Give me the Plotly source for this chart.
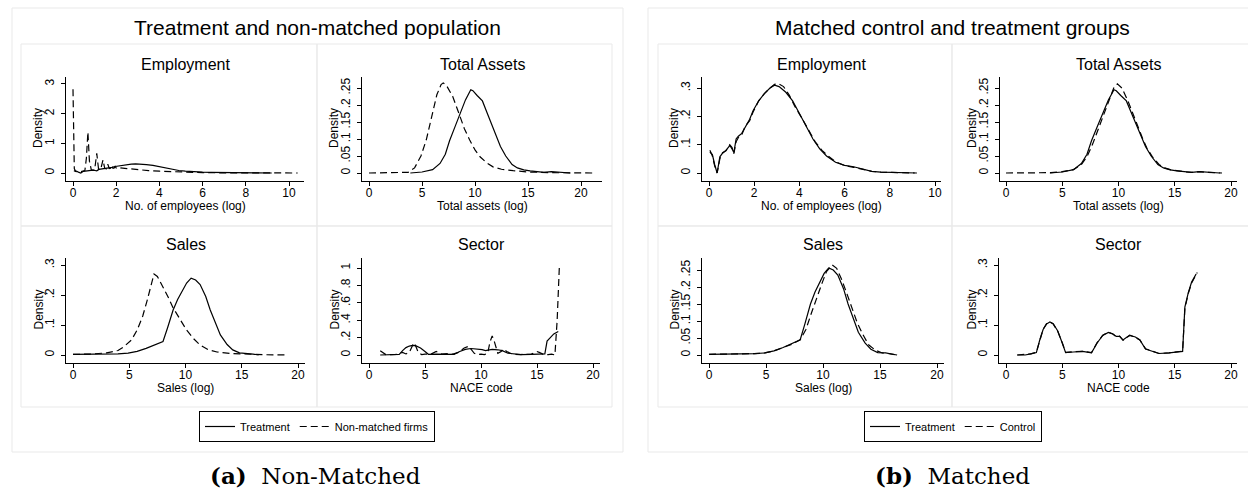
import plotly.graph_objects as go

W, H = 1248, 496

# ---------------- data: kernel density estimates ----------------
# Employment (log no. of employees)
emp_treat_x = [0.04, 0.15, 0.25, 0.36, 0.48, 0.6, 0.75, 0.92, 1.02, 1.1, 1.2, 1.3, 1.45, 1.6, 1.8, 1.95,
               2.2, 2.45, 2.7, 2.9, 3.1, 3.4, 3.7, 4.0, 4.3, 4.6, 4.9, 5.2, 5.6, 6.0, 6.4, 6.8, 7.2, 7.6,
               8.0, 8.5, 9.2]
emp_treat_y = [0.074, 0.065, 0.03, 0.0, 0.057, 0.07, 0.08, 0.097, 0.085, 0.072, 0.12, 0.13, 0.14, 0.16,
               0.19, 0.22, 0.255, 0.28, 0.3, 0.31, 0.305, 0.285, 0.255, 0.21, 0.165, 0.12, 0.085, 0.06,
               0.038, 0.027, 0.022, 0.013, 0.006, 0.003, 0.002, 0.001, 0.0]
emp_nonm_x = [0.0, 0.02, 0.06, 0.12, 0.3, 0.55, 0.62, 0.69, 0.76, 0.85, 1.0, 1.1, 1.18, 1.28, 1.39, 1.47,
              1.55, 1.61, 1.68, 1.74, 1.79, 1.85, 1.91, 1.95, 2.0, 2.08, 2.2, 2.5, 3.0, 3.5, 4.0, 4.5,
              5.0, 5.5, 6.0, 7.0, 8.0, 9.0, 10.4]
emp_nonm_y = [2.82, 1.5, 0.15, 0.05, 0.03, 0.08, 0.5, 1.38, 0.4, 0.1, 0.1, 0.66, 0.15, 0.12, 0.44, 0.15,
              0.14, 0.3, 0.15, 0.16, 0.25, 0.16, 0.17, 0.22, 0.17, 0.2, 0.17, 0.15, 0.11, 0.08, 0.06,
              0.045, 0.03, 0.02, 0.012, 0.006, 0.003, 0.001, 0.0]
emp_ctrl_x = [0.04, 0.15, 0.25, 0.36, 0.48, 0.6, 0.75, 0.92, 1.02, 1.1, 1.2, 1.3, 1.45, 1.6, 1.8, 1.95,
              2.2, 2.45, 2.7, 2.9, 3.05, 3.3, 3.55, 3.8, 4.1, 4.4, 4.7, 5.0, 5.3, 5.6, 6.0, 6.4, 6.8,
              7.2, 7.6, 8.0, 8.5, 9.1]
emp_ctrl_y = [0.08, 0.06, 0.025, 0.0, 0.05, 0.072, 0.078, 0.1, 0.09, 0.068, 0.11, 0.125, 0.135, 0.165,
              0.185, 0.215, 0.255, 0.28, 0.3, 0.313, 0.316, 0.305, 0.275, 0.235, 0.195, 0.15, 0.11,
              0.08, 0.058, 0.04, 0.026, 0.02, 0.012, 0.006, 0.003, 0.002, 0.001, 0.0]

# Total assets (log)
ta_treat_x = [3.9, 5.0, 6.0, 6.7, 7.2, 7.6, 8.1, 8.6, 9.1, 9.6, 9.8, 10.2, 10.7, 11.1, 11.6, 12.0, 12.4,
              12.9, 13.5, 14.0, 14.6, 15.2, 16.0, 16.5, 17.2, 17.8, 18.4, 19.0]
ta_treat_y = [0.0, 0.003, 0.01, 0.028, 0.055, 0.095, 0.135, 0.175, 0.215, 0.245, 0.242, 0.228, 0.212,
              0.18, 0.14, 0.105, 0.078, 0.05, 0.025, 0.015, 0.009, 0.006, 0.003, 0.002, 0.004, 0.002,
              0.001, 0.0]
ta_nonm_x = [0.0, 2.0, 3.7, 4.3, 4.9, 5.4, 5.9, 6.4, 6.8, 7.0, 7.3, 7.9, 8.6, 9.0, 9.5, 10.0, 10.5, 11.1,
             11.7, 12.5, 13.6, 15.0, 17.0, 19.0, 21.1]
ta_nonm_y = [0.0, 0.0, 0.002, 0.015, 0.05, 0.097, 0.165, 0.23, 0.26, 0.265, 0.258, 0.225, 0.165, 0.13,
             0.097, 0.068, 0.047, 0.03, 0.018, 0.011, 0.007, 0.003, 0.001, 0.0, 0.0]
ta_ctrl_x = [0.0, 2.0, 4.0, 5.0, 6.0, 6.7, 7.2, 7.7, 8.2, 8.7, 9.2, 9.6, 9.9, 10.3, 10.8, 11.2, 11.7,
             12.1, 12.5, 13.0, 13.6, 14.1, 14.7, 15.3, 16.0, 16.6, 17.2, 17.8, 18.5, 19.2]
ta_ctrl_y = [0.0, 0.0, 0.001, 0.004, 0.01, 0.025, 0.048, 0.085, 0.13, 0.175, 0.22, 0.252, 0.262, 0.25,
             0.215, 0.18, 0.14, 0.105, 0.075, 0.048, 0.025, 0.015, 0.009, 0.006, 0.003, 0.002, 0.004,
             0.002, 0.001, 0.0]

# Sales (log)
sales_treat_x = [0.0, 1.0, 2.0, 3.0, 4.0, 4.9, 5.7, 6.5, 7.3, 8.0, 8.4, 8.9, 9.3, 9.7, 10.1, 10.5, 10.9,
                 11.3, 11.8, 12.2, 12.7, 13.1, 13.7, 14.2, 14.8, 15.5, 16.0, 16.5]
sales_treat_y = [0.002, 0.002, 0.002, 0.003, 0.004, 0.006, 0.012, 0.022, 0.033, 0.045, 0.09, 0.15,
                 0.185, 0.215, 0.24, 0.256, 0.25, 0.235, 0.195, 0.15, 0.105, 0.067, 0.035, 0.017,
                 0.007, 0.006, 0.003, 0.0]
sales_nonm_x = [0.0, 1.5, 3.0, 4.0, 4.5, 5.2, 5.7, 6.2, 6.6, 7.0, 7.2, 7.5, 8.0, 8.5, 8.9, 9.5, 10.1,
                10.7, 11.3, 12.0, 12.8, 14.0, 15.5, 17.0, 19.1]
sales_nonm_y = [0.002, 0.003, 0.007, 0.015, 0.027, 0.05, 0.083, 0.13, 0.183, 0.245, 0.27, 0.262, 0.227,
                0.19, 0.157, 0.12, 0.083, 0.055, 0.033, 0.018, 0.01, 0.005, 0.002, 0.001, 0.0]
sales_ctrl_x = [0.0, 1.0, 2.0, 3.0, 4.0, 4.9, 5.7, 6.5, 7.3, 8.0, 8.5, 9.0, 9.5, 9.9, 10.3, 10.8, 11.2,
                11.6, 12.1, 12.5, 13.0, 13.5, 14.0, 14.6, 15.2, 15.8, 16.5]
sales_ctrl_y = [0.002, 0.002, 0.002, 0.003, 0.004, 0.006, 0.012, 0.022, 0.032, 0.045, 0.075, 0.125,
                0.175, 0.21, 0.245, 0.265, 0.255, 0.225, 0.18, 0.14, 0.095, 0.06, 0.03, 0.014, 0.006,
                0.004, 0.0]

# Sector (NACE code)
sec_treat_x = [1.0, 1.7, 2.2, 2.7, 3.0, 3.3, 3.6, 3.9, 4.2, 4.6, 5.0, 5.3, 6.0, 6.8, 7.6, 8.1, 8.6, 9.1,
               9.5, 9.8, 10.1, 10.4, 10.7, 11.0, 11.5, 11.9, 12.4, 13.0, 13.6, 14.5, 15.2, 15.7, 15.9,
               16.2, 16.5, 16.9]
sec_treat_y = [0.0, 0.0, 0.004, 0.008, 0.05, 0.085, 0.103, 0.11, 0.104, 0.08, 0.04, 0.008, 0.01, 0.012,
               0.007, 0.04, 0.065, 0.075, 0.07, 0.062, 0.062, 0.05, 0.058, 0.065, 0.06, 0.05, 0.02,
               0.013, 0.005, 0.007, 0.01, 0.012, 0.16, 0.207, 0.243, 0.27]
sec_nonm_x = [1.0, 1.2, 1.5, 2.0, 2.5, 3.0, 3.3, 3.6, 3.85, 4.0, 4.15, 4.4, 4.7, 5.0, 5.5, 5.8, 6.0, 6.2,
              6.5, 7.0, 7.5, 8.0, 8.5, 8.9, 9.1, 9.4, 9.7, 10.0, 10.3, 10.6, 10.8, 11.0, 11.2, 11.5,
              11.8, 12.0, 12.3, 12.8, 13.5, 14.0, 14.5, 14.8, 15.0, 15.2, 15.6, 16.0, 16.3, 16.6, 16.8,
              17.0]
sec_nonm_y = [0.05, 0.03, 0.005, 0.003, 0.008, 0.03, 0.012, 0.03, 0.11, 0.14, 0.11, 0.03, 0.005, 0.01,
              0.008, 0.03, 0.04, 0.03, 0.01, 0.015, 0.01, 0.03, 0.08, 0.1, 0.07, 0.02, 0.005, 0.01,
              0.005, 0.02, 0.15, 0.22, 0.15, 0.02, 0.04, 0.07, 0.04, 0.01, 0.005, 0.008, 0.01, 0.03,
              0.04, 0.03, 0.005, 0.004, 0.01, 0.0, 0.4, 1.03]
sec_ctrl_x = [1.0, 1.7, 2.2, 2.7, 3.0, 3.3, 3.6, 3.9, 4.2, 4.6, 5.0, 5.3, 6.0, 6.8, 7.6, 8.1, 8.6, 9.1,
              9.5, 9.8, 10.1, 10.4, 10.7, 11.0, 11.5, 11.9, 12.4, 13.0, 13.6, 14.5, 15.2, 15.7, 15.9,
              16.2, 16.5, 17.0]
sec_ctrl_y = [0.0, 0.001, 0.004, 0.009, 0.05, 0.086, 0.104, 0.111, 0.103, 0.079, 0.041, 0.009, 0.011,
              0.012, 0.008, 0.041, 0.066, 0.076, 0.07, 0.061, 0.063, 0.049, 0.057, 0.066, 0.059, 0.05,
              0.021, 0.013, 0.005, 0.007, 0.01, 0.013, 0.155, 0.205, 0.24, 0.275]

# tick labels
emp_xticks = [0, 2, 4, 6, 8, 10]
wide_xticks = [0, 5, 10, 15, 20]
ticks_0_3 = ([0, 1, 2, 3], ["0", "1", "2", "3"])
ticks_0_p3 = ([0, 0.1, 0.2, 0.3], ["0", ".1", ".2", ".3"])
ticks_0_p25 = ([0, 0.05, 0.1, 0.15, 0.2, 0.25], ["0", ".05", ".1", ".15", ".2", ".25"])
ticks_0_1 = ([0, 0.2, 0.4, 0.6, 0.8, 1.0], ["0", ".2", ".4", ".6", ".8", "1"])

FONT = "Liberation Sans, Arial, sans-serif"
DASH = "7px,4px"

# subplot geometry in pixels: left, right, top, bottom, pixel of x=0, px per x unit, pixel of y=0, px per y unit
panels = [
    dict(name="Employment", L=66, R=304, T=77, B=181, x0=73, xs=21.6, y0=173, ys=29.67,
         xt=emp_xticks, yt=ticks_0_3, xlab="No. of employees (log)",
         series=[(emp_treat_x, emp_treat_y, "Treatment", "solid"),
                 (emp_nonm_x, emp_nonm_y, "Non-matched firms", DASH)], legend="legend"),
    dict(name="Total Assets", L=362, R=602, T=77, B=181, x0=369, xs=10.6, y0=173, ys=340,
         xt=wide_xticks, yt=ticks_0_p25, xlab="Total assets (log)",
         series=[(ta_treat_x, ta_treat_y, "Treatment", "solid"),
                 (ta_nonm_x, ta_nonm_y, "Non-matched firms", DASH)], legend="legend"),
    dict(name="Sales", L=66, R=305, T=258, B=363, x0=73, xs=11.25, y0=355, ys=300,
         xt=wide_xticks, yt=ticks_0_p3, xlab="Sales (log)",
         series=[(sales_treat_x, sales_treat_y, "Treatment", "solid"),
                 (sales_nonm_x, sales_nonm_y, "Non-matched firms", DASH)], legend="legend"),
    dict(name="Sector", L=362, R=600, T=258, B=363, x0=369, xs=11.2, y0=355, ys=87,
         xt=wide_xticks, yt=ticks_0_1, xlab="NACE code",
         series=[(sec_treat_x, sec_treat_y, "Treatment", "solid"),
                 (sec_nonm_x, sec_nonm_y, "Non-matched firms", DASH)], legend="legend"),
    dict(name="Employment", L=702, R=941, T=77, B=181, x0=709, xs=22.6, y0=173, ys=283.3,
         xt=emp_xticks, yt=ticks_0_p3, xlab="No. of employees (log)",
         series=[(emp_treat_x, emp_treat_y, "Treatment", "solid"),
                 (emp_ctrl_x, emp_ctrl_y, "Control", DASH)], legend="legend2"),
    dict(name="Total Assets", L=1000, R=1237, T=77, B=181, x0=1006, xs=11.25, y0=173, ys=340,
         xt=wide_xticks, yt=ticks_0_p25, xlab="Total assets (log)",
         series=[(ta_treat_x, ta_treat_y, "Treatment", "solid"),
                 (ta_ctrl_x, ta_ctrl_y, "Control", DASH)], legend="legend2"),
    dict(name="Sales", L=702, R=944, T=258, B=363, x0=709, xs=11.4, y0=355, ys=340,
         xt=wide_xticks, yt=ticks_0_p25, xlab="Sales (log)",
         series=[(sales_treat_x, sales_treat_y, "Treatment", "solid"),
                 (sales_ctrl_x, sales_ctrl_y, "Control", DASH)], legend="legend2"),
    dict(name="Sector", L=999, R=1237, T=258, B=363, x0=1006, xs=11.25, y0=355, ys=300,
         xt=wide_xticks, yt=ticks_0_p3, xlab="NACE code",
         series=[(sec_treat_x, sec_treat_y, "Treatment", "solid"),
                 (sec_ctrl_x, sec_ctrl_y, "Control", DASH)], legend="legend2"),
]


def fx(p):
    return p / W


def fy(p):
    return 1 - p / H


fig = go.Figure()
layout = {}
annotations = []
shapes = []
legend_seen = set()

for i, p in enumerate(panels, start=1):
    sfx = "" if i == 1 else str(i)
    for xs_, ys_, nm, dash in p["series"]:
        key = (p["legend"], nm)
        fig.add_trace(go.Scatter(
            x=xs_, y=ys_, mode="lines", name=nm,
            line=dict(color="black", width=1.2, dash=dash),
            xaxis="x" + sfx, yaxis="y" + sfx, legend=p["legend"],
            showlegend=key not in legend_seen, hoverinfo="skip"))
        legend_seen.add(key)

    xr = [(p["L"] - p["x0"]) / p["xs"], (p["R"] - p["x0"]) / p["xs"]]
    yr = [(p["y0"] - p["B"]) / p["ys"], (p["y0"] - p["T"]) / p["ys"]]
    common = dict(showline=True, linecolor="black", linewidth=1, showgrid=False, zeroline=False,
                  ticks="outside", ticklen=4, tickwidth=1, tickcolor="black",
                  tickfont=dict(family=FONT, size=12, color="black"), fixedrange=True)
    layout["xaxis" + sfx] = dict(domain=[fx(p["L"]), fx(p["R"])], range=xr, anchor="y" + sfx,
                                 tickvals=p["xt"], ticktext=[str(v) for v in p["xt"]],
                                 ticklabelstandoff=-3, **common)
    layout["yaxis" + sfx] = dict(domain=[fy(p["B"]), fy(p["T"])], range=yr, anchor="x" + sfx,
                                 tickvals=p["yt"][0], ticktext=p["yt"][1], tickangle=-90,
                                 ticklabelstandoff=2, **common)

    cx = (p["L"] + p["R"]) / 2
    annotations.append(dict(text=p["name"], x=fx(cx), y=fy(p["T"] - 13), xref="paper", yref="paper",
                            showarrow=False, xanchor="center", yanchor="middle",
                            font=dict(family=FONT, size=16, color="black")))
    annotations.append(dict(text=p["xlab"], x=fx(cx), y=fy(p["B"] + 25), xref="paper", yref="paper",
                            showarrow=False, xanchor="center", yanchor="middle",
                            font=dict(family=FONT, size=12, color="black")))
    annotations.append(dict(text="Density", x=fx(p["L"] - 28), y=fy((p["T"] + p["B"]) / 2 - 1),
                            xref="paper", yref="paper", showarrow=False, textangle=-90,
                            xanchor="center", yanchor="middle",
                            font=dict(family=FONT, size=12, color="black")))

# panel frames
BOX = "#e9e9e9"
for (x0, x1) in [(12, 623), (648, 1262)]:
    shapes.append(dict(type="rect", xref="paper", yref="paper", x0=fx(x0), x1=fx(x1),
                       y0=fy(452), y1=fy(8), line=dict(color=BOX, width=1), layer="below"))
for (x0, x1) in [(21, 317), (317, 612), (658, 952), (952, 1249)]:
    for (y0, y1) in [(44, 226), (226, 407)]:
        shapes.append(dict(type="rect", xref="paper", yref="paper", x0=fx(x0), x1=fx(x1),
                           y0=fy(y1), y1=fy(y0), line=dict(color=BOX, width=1), layer="below"))

# panel headings and captions
annotations.append(dict(text="Treatment and non-matched population", x=fx(317), y=fy(28),
                        xref="paper", yref="paper", showarrow=False, xanchor="center",
                        yanchor="middle", font=dict(family=FONT, size=21, color="black")))
annotations.append(dict(text="Matched control and treatment groups", x=fx(953), y=fy(28),
                        xref="paper", yref="paper", showarrow=False, xanchor="center",
                        yanchor="middle", font=dict(family=FONT, size=21, color="black")))
annotations.append(dict(text="<b>(a)</b>  Non-Matched", x=fx(315), y=fy(475), xref="paper",
                        yref="paper", showarrow=False, xanchor="center", yanchor="middle",
                        font=dict(family="DejaVu Serif, serif", size=23, color="black")))
annotations.append(dict(text="<b>(b)</b>  Matched", x=fx(953), y=fy(475), xref="paper",
                        yref="paper", showarrow=False, xanchor="center", yanchor="middle",
                        font=dict(family="DejaVu Serif, serif", size=23, color="black")))

leg_common = dict(orientation="h", xanchor="center", yanchor="top", bgcolor="white",
                  bordercolor="black", borderwidth=1, font=dict(family=FONT, size=11, color="black"),
                  itemwidth=30, tracegroupgap=0)
layout["legend"] = dict(x=fx(317), y=fy(411), **leg_common)
layout["legend2"] = dict(x=fx(953), y=fy(411), **leg_common)

fig.update_layout(width=W, height=H, margin=dict(l=0, r=0, t=0, b=0),
                  paper_bgcolor="white", plot_bgcolor="white",
                  annotations=annotations, shapes=shapes, **layout)

fig.write_html("out.html", config={"displayModeBar": False})
